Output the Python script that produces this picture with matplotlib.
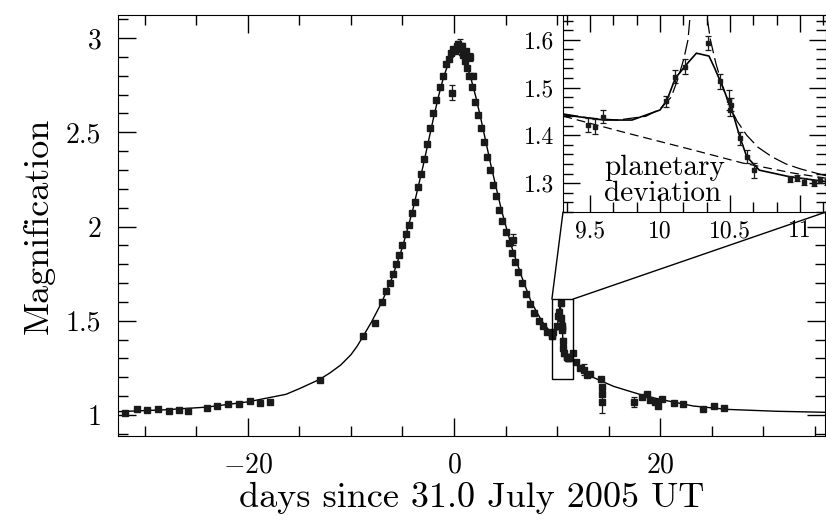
import matplotlib
matplotlib.use("Agg")
import matplotlib.pyplot as plt
from matplotlib.ticker import MultipleLocator
from matplotlib.patches import Rectangle, ConnectionPatch

plt.rcParams["font.family"] = "serif"
plt.rcParams["font.serif"] = ["cmr10"]
plt.rcParams["mathtext.fontset"] = "cm"
plt.rcParams["axes.formatter.use_mathtext"] = True

# model curve
model_t = [-33, -28, -24, -20, -16.3, -15, -13, -12, -11, -10, -9.4, -8.8, -8, -7, -6, -5, -4,
           -3, -2, -1.5, -1, -0.5,
           0.3, 1.1, 1.6, 2.1, 2.6, 3.6, 4.6, 5.6, 6.6, 7.5, 8.5, 9.0,
           9.31, 9.6, 9.8, 10.0, 10.05, 10.11, 10.2, 10.26, 10.35, 10.39, 10.45, 10.52, 10.57,
           10.62, 10.71, 10.93, 11.19,
           11.5, 12.5, 13.3, 14.3, 15.5, 16.8, 18.5, 20.3, 23.2, 26.5, 31.3, 36.5]
model_A = [1.017, 1.028, 1.042, 1.070, 1.110, 1.140, 1.190, 1.225, 1.265, 1.320, 1.365, 1.420,
           1.494, 1.599, 1.729, 1.891, 2.088,
           2.321, 2.573, 2.691, 2.795, 2.872,
           2.925, 2.872, 2.795, 2.691, 2.573, 2.321, 2.088, 1.891, 1.729, 1.599, 1.500, 1.465,
           1.443, 1.432, 1.432, 1.453, 1.474, 1.520, 1.552, 1.572, 1.566, 1.541, 1.500, 1.447,
           1.397, 1.355, 1.327, 1.313, 1.303,
           1.287, 1.235, 1.205, 1.180, 1.152, 1.130, 1.102, 1.080, 1.048, 1.030, 1.020, 1.014]

# single lens (no planet) dashed curve in the inset
single_t = [9.31, 9.76, 10.24, 10.59, 10.95, 11.19]
single_A = [1.440, 1.405, 1.369, 1.342, 1.321, 1.310]

# alternative binary model (long dashes) in the inset
alt_t = [9.31, 9.5, 9.7, 9.9, 10.0, 10.08, 10.13, 10.17, 10.2, 10.23, 10.27, 10.31, 10.33,
         10.36, 10.4, 10.45, 10.5, 10.55, 10.62, 10.7, 10.8, 10.9, 11.0, 11.1, 11.19]
alt_A = [1.445, 1.436, 1.432, 1.440, 1.455, 1.480, 1.520, 1.560, 1.600, 1.700, 1.800, 1.700,
         1.660, 1.600, 1.550, 1.500, 1.460, 1.430, 1.400, 1.375, 1.355, 1.340, 1.330, 1.322, 1.315]

# observations: time, magnification, error
obs_t = [-31.9, -30.8, -29.8, -28.7, -27.7, -26.7, -25.8, -24.0, -23.0, -21.9, -20.9, -19.8,
         -18.8, -17.9, -13.0,
         -8.8, -7.7, -7.0, -6.6, -6.2, -5.9, -5.6, -5.3, -5.0, -4.7, -4.4, -4.1, -3.8, -3.5,
         -3.2, -2.9, -2.6, -2.3, -2.0, -1.7, -1.4, -1.1, -0.8, -0.5, -0.3, -0.1, 0.1, 0.3, 0.5,
         0.7, 0.9, 1.1, 1.3, 1.5, 1.7, 2.0, 2.3, 2.6, 2.9, 3.2, 3.5, 3.8, 4.1, 4.4, 4.7, 5.0,
         5.3, 5.6, 5.9, 6.2, 6.6, 7.0, 7.4, 7.8, 8.2, 8.6, 9.0,
         0.4, 0.6, 0.8, 1.2, 1.6, 1.8, -0.2, 5.7,
         9.486, 9.536, 9.59, 10.04, 10.11, 10.18, 10.345, 10.43, 10.49, 10.51, 10.5, 10.57,
         10.62, 10.67, 10.93, 10.98, 11.03, 11.1, 11.14, 11.19,
         11.5, 11.8, 12.2, 12.6, 12.9, 13.2, 14.3, 14.32, 14.34, 14.36, 17.5,
         18.2, 18.7, 19.0, 19.5, 19.8, 20.2, 21.3, 22.2, 24.2, 25.2, 26.2]
obs_A = [1.010, 1.030, 1.028, 1.033, 1.020, 1.028, 1.020, 1.037, 1.046, 1.058, 1.058, 1.072,
         1.064, 1.069, 1.187,
         1.42, 1.49, 1.60, 1.66, 1.70, 1.75, 1.80, 1.85, 1.90, 1.96, 2.01, 2.07, 2.13, 2.21,
         2.28, 2.36, 2.44, 2.52, 2.60, 2.67, 2.74, 2.80, 2.86, 2.89, 2.92, 2.94, 2.93, 2.96, 2.94,
         2.95, 2.91, 2.88, 2.84, 2.80, 2.74, 2.66, 2.59, 2.52, 2.45, 2.37, 2.30, 2.22, 2.16, 2.09,
         2.03, 1.97, 1.91, 1.86, 1.81, 1.76, 1.70, 1.64, 1.59, 1.54, 1.50, 1.47, 1.44,
         2.97, 2.96, 2.96, 2.93, 2.90, 2.80, 2.71, 1.93,
         1.422, 1.418, 1.439, 1.471, 1.523, 1.544, 1.593, 1.513, 1.474, 1.464, 1.453, 1.394,
         1.355, 1.327, 1.308, 1.310, 1.303, 1.300, 1.306, 1.303,
         1.33, 1.28, 1.25, 1.24, 1.21, 1.22, 1.19, 1.15, 1.11, 1.07, 1.07,
         1.095, 1.11, 1.08, 1.07, 1.05, 1.085, 1.065, 1.06, 1.03, 1.05, 1.04]
obs_err = [0.006] * 15 + [0.008] * 57 + [0.012, 0.035, 0.012, 0.012, 0.02, 0.012, 0.04, 0.03] + \
          [0.014, 0.016, 0.014, 0.012, 0.014, 0.016, 0.014, 0.016, 0.02, 0.014, 0.012, 0.014,
           0.014, 0.016, 0.006, 0.006, 0.008, 0.006, 0.006, 0.006] + \
          [0.01, 0.01, 0.01, 0.03, 0.01, 0.01, 0.012, 0.01, 0.01, 0.06, 0.025] + [0.01] * 11

fig = plt.figure(figsize=(8.26, 5.24), dpi=100)
ax = fig.add_axes([0.1429, 0.168, 0.8559, 0.8034])

ax.errorbar(obs_t, obs_A, yerr=obs_err, fmt="s", ms=4.0, color="#1a1a1a", ecolor="#1a1a1a",
            elinewidth=0.9, capsize=2, capthick=0.9, zorder=3)
ax.plot(model_t, model_A, color="black", lw=1.0, zorder=2)
ax.add_patch(Rectangle((9.5, 1.19), 2.05, 0.425, fill=False, ec="black", lw=1.0, zorder=4))

ax.set_xlim(-32.6, 36.0)
ax.set_ylim(0.889, 3.122)
ax.xaxis.set_major_locator(MultipleLocator(20))
ax.xaxis.set_minor_locator(MultipleLocator(5))
ax.yaxis.set_major_locator(MultipleLocator(0.5))
ax.yaxis.set_minor_locator(MultipleLocator(0.1))
ax.yaxis.set_major_formatter(plt.FuncFormatter(lambda v, p: "%g" % v))
ax.tick_params(which="both", direction="in", top=True, right=True, width=1.0, labelsize=20)
ax.tick_params(which="major", length=13, pad=12)
ax.tick_params(which="minor", length=7)
ax.set_xlabel("days since 31.0 July 2005 UT", fontsize=26, labelpad=2)
ax.set_ylabel("Magnification", fontsize=26, labelpad=8)

# inset
axi = fig.add_axes([0.6816, 0.5954, 0.3184, 0.376])
axi.plot(model_t, model_A, color="black", lw=1.2)
axi.plot(single_t, single_A, color="black", lw=0.9, dashes=(7, 4))
axi.plot(alt_t, alt_A, color="black", lw=0.9, dashes=(12, 4))
axi.errorbar(obs_t, obs_A, yerr=obs_err, fmt="s", ms=2.6, color="#1a1a1a", ecolor="#1a1a1a",
             elinewidth=0.9, capsize=2.2, capthick=0.9)
axi.set_xlim(9.307, 11.186)
axi.set_ylim(1.2394, 1.652)
axi.xaxis.set_major_locator(MultipleLocator(0.5))
axi.xaxis.set_minor_locator(MultipleLocator(1 / 6))
axi.yaxis.set_major_locator(MultipleLocator(0.1))
axi.yaxis.set_minor_locator(MultipleLocator(0.02))
axi.xaxis.set_major_formatter(plt.FuncFormatter(lambda v, p: "%g" % round(v, 2)))
axi.yaxis.set_major_formatter(plt.FuncFormatter(lambda v, p: "%g" % round(v, 2)))
axi.tick_params(which="both", direction="in", top=True, right=True, width=1.0, labelsize=17)
axi.tick_params(which="major", length=12, pad=6)
axi.tick_params(which="minor", length=7)
axi.text(9.6, 1.305, "planetary\ndeviation", fontsize=21, ha="left", va="center",
         linespacing=1.0)

for xa, xb in [((9.5, 1.615), (0, 0)), ((11.55, 1.615), (1, 0))]:
    con = ConnectionPatch(xyA=xa, coordsA=ax.transData, xyB=xb, coordsB=axi.transAxes,
                          color="black", lw=1.0)
    fig.add_artist(con)

fig.savefig("out.png", dpi=100)
